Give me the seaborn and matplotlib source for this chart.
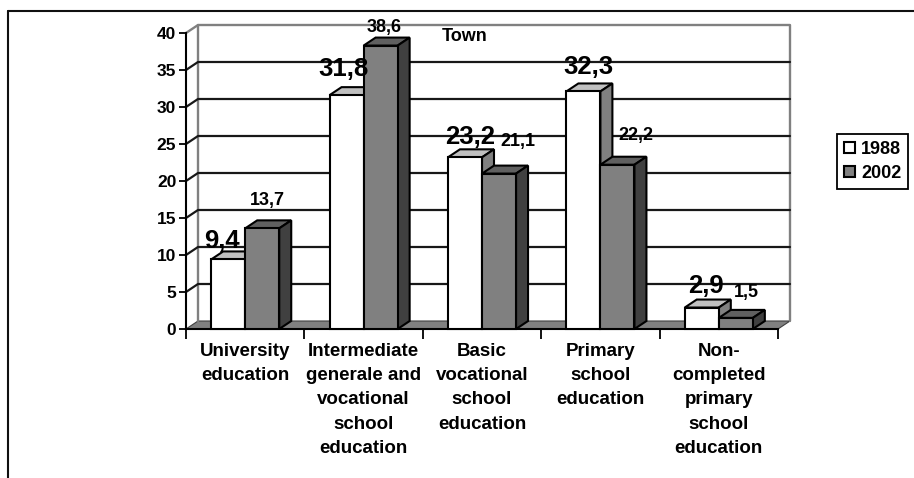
import matplotlib
matplotlib.use("Agg")
import matplotlib.pyplot as plt
from matplotlib.lines import Line2D
from matplotlib.patches import Polygon
import pandas as pd
import seaborn as sns

categories = [
    "University\neducation",
    "Intermediate\ngenerale and\nvocational\nschool\neducation",
    "Basic\nvocational\nschool\neducation",
    "Primary\nschool\neducation",
    "Non-\ncompleted\nprimary\nschool\neducation",
]
values_1988 = [9.4, 31.8, 23.2, 32.3, 2.9]
values_2002 = [13.7, 38.6, 21.1, 22.2, 1.5]
drawn_1988 = [9.4, 31.6, 23.2, 32.1, 2.9]
drawn_2002 = [13.6, 38.3, 21.0, 22.2, 1.5]
y_ticks = [0, 5, 10, 15, 20, 25, 30, 35, 40]

# hand placed label offsets from top centre of each bar, pixels
offsets_1988 = [(-6, 18), (-3, 26), (5, 20), (5, 24), (4, 22)]
offsets_2002 = [(5, 28), (4, 18), (19, 32), (18, 29), (11, 25)]

W, H = 914, 478
EDGE_LW = 1.5
DEPTH_X = 12 / 118.4
DEPTH_Y = 8 / 7.4
FRONT = {"1988": ("white", "#C0C0C0", "#808080"), "2002": ("#808080", "#606060", "#404040")}

sns.set_theme(style="white")
plt.rcParams["font.family"] = ["Liberation Sans", "DejaVu Sans"]
plt.rcParams["font.weight"] = "bold"

fig = plt.figure(figsize=(W / 100, H / 100), dpi=100)
ax = fig.add_axes([186 / W, (H - 329) / H, 592 / W, 296 / H])
ax.patch.set_alpha(0)

df = pd.DataFrame({
    "category": categories * 2,
    "year": ["1988"] * 5 + ["2002"] * 5,
    "value": drawn_1988 + drawn_2002,
})
sns.barplot(data=df, x="category", y="value", hue="year", order=categories,
            palette={"1988": "white", "2002": "#808080"}, width=0.575, gap=0,
            edgecolor="black", linewidth=EDGE_LW, saturation=1, ax=ax)

ax.set_xlim(-0.5, 4.5)
ax.set_ylim(0, 40)
ax.set_xlabel("")
ax.set_ylabel("")

# back wall, floor and gridlines
floor = Polygon([(-0.5, 0), (-0.5 + DEPTH_X, DEPTH_Y), (4.5 + DEPTH_X, DEPTH_Y), (4.5, 0)],
                closed=True, facecolor="#808080", edgecolor="#404040", lw=0.8,
                clip_on=False, zorder=1)
ax.add_patch(floor)
for t in y_ticks[1:-1]:
    ax.plot([-0.5, -0.5 + DEPTH_X, 4.5 + DEPTH_X], [t, t + DEPTH_Y, t + DEPTH_Y],
            color="#181818", lw=1.6, clip_on=False, zorder=1.2)
ax.plot([-0.5 + DEPTH_X, -0.5 + DEPTH_X], [DEPTH_Y, 40 + DEPTH_Y], color="#808080", lw=1.7,
        clip_on=False, zorder=1.1)
ax.plot([-0.5, -0.5 + DEPTH_X, 4.5 + DEPTH_X, 4.5 + DEPTH_X],
        [40, 40 + DEPTH_Y, 40 + DEPTH_Y, DEPTH_Y], color="#808080", lw=1.7,
        clip_on=False, zorder=1.1)

# fake 3d faces on top of each seaborn bar
z = 3
for i in range(len(categories)):
    for cont, year, vals, offs in zip(ax.containers, ["1988", "2002"],
                                      [values_1988, values_2002],
                                      [offsets_1988, offsets_2002]):
        bar = cont[i]
        x0, x1 = bar.get_x(), bar.get_x() + bar.get_width()
        top = bar.get_height()
        _, top_c, side_c = FRONT[year]
        ax.add_patch(Polygon([(x0, top), (x0 + DEPTH_X, top + DEPTH_Y),
                              (x1 + DEPTH_X, top + DEPTH_Y), (x1, top)],
                             closed=True, facecolor=top_c, edgecolor="black",
                             lw=EDGE_LW, clip_on=False, zorder=z))
        ax.add_patch(Polygon([(x1, 0), (x1 + DEPTH_X, DEPTH_Y),
                              (x1 + DEPTH_X, top + DEPTH_Y), (x1, top)],
                             closed=True, facecolor=side_c, edgecolor="black",
                             lw=EDGE_LW, clip_on=False, zorder=z))
        bar.set_zorder(z + 0.5)
        bar.set_clip_on(False)
        z += 1
        big = year == "1988"
        ax.annotate(f"{vals[i]:.1f}".replace(".", ","), xy=((x0 + x1) / 2, top),
                    xytext=(offs[i][0], offs[i][1]), textcoords="offset pixels",
                    ha="center", va="center", color="black",
                    fontsize=18.5 if big else 13, fontweight="bold",
                    annotation_clip=False, zorder=50)

ax.text(0.47, 0.989, "Town", transform=ax.transAxes, ha="center", va="center",
        fontsize=13, fontweight="bold", color="black", zorder=50)

# axes and ticks
for name, spine in ax.spines.items():
    spine.set_visible(name in ("left", "bottom"))
    spine.set_color("black")
    spine.set_linewidth(EDGE_LW)
    spine.set_zorder(2.5)
ax.set_yticks(y_ticks)
ax.tick_params(axis="y", which="major", left=True, length=5, width=1.3, color="black",
               labelsize=12.5, pad=2, labelcolor="black")
ax.set_xticks([-0.5, 0.5, 1.5, 2.5, 3.5, 4.5])
ax.set_xticklabels([])
ax.set_xticks(range(len(categories)), minor=True)
ax.set_xticklabels(categories, minor=True, fontsize=13.5, fontweight="bold",
                   linespacing=1.56, color="black")
ax.tick_params(axis="x", which="major", bottom=True, length=7, width=1.3, color="black")
ax.tick_params(axis="x", which="minor", bottom=False, length=0, pad=10)
for lab in ax.get_yticklabels():
    lab.set_fontweight("bold")

# legend
handles, labels = ax.get_legend_handles_labels()
leg = ax.legend(handles, labels, loc="center", bbox_to_anchor=(872.5 / W, (H - 161.5) / H),
                bbox_transform=fig.transFigure, frameon=True, fancybox=False,
                edgecolor="black", framealpha=1, fontsize=13, handlelength=0.6,
                handleheight=0.6, handletextpad=0.35, labelspacing=0.4,
                borderpad=0.38, borderaxespad=0, title=None)
leg.get_frame().set_linewidth(1.3)
for txt in leg.get_texts():
    txt.set_fontweight("bold")
    txt.set_color("black")

# outer chart frame, open on the right and bottom
fig.add_artist(Line2D([8 / W, 1], [(H - 11) / H] * 2, color="#101010", lw=1.5))
fig.add_artist(Line2D([8 / W, 8 / W], [0, (H - 11) / H], color="#101010", lw=1.5))

fig.savefig("out.png", dpi=100)
